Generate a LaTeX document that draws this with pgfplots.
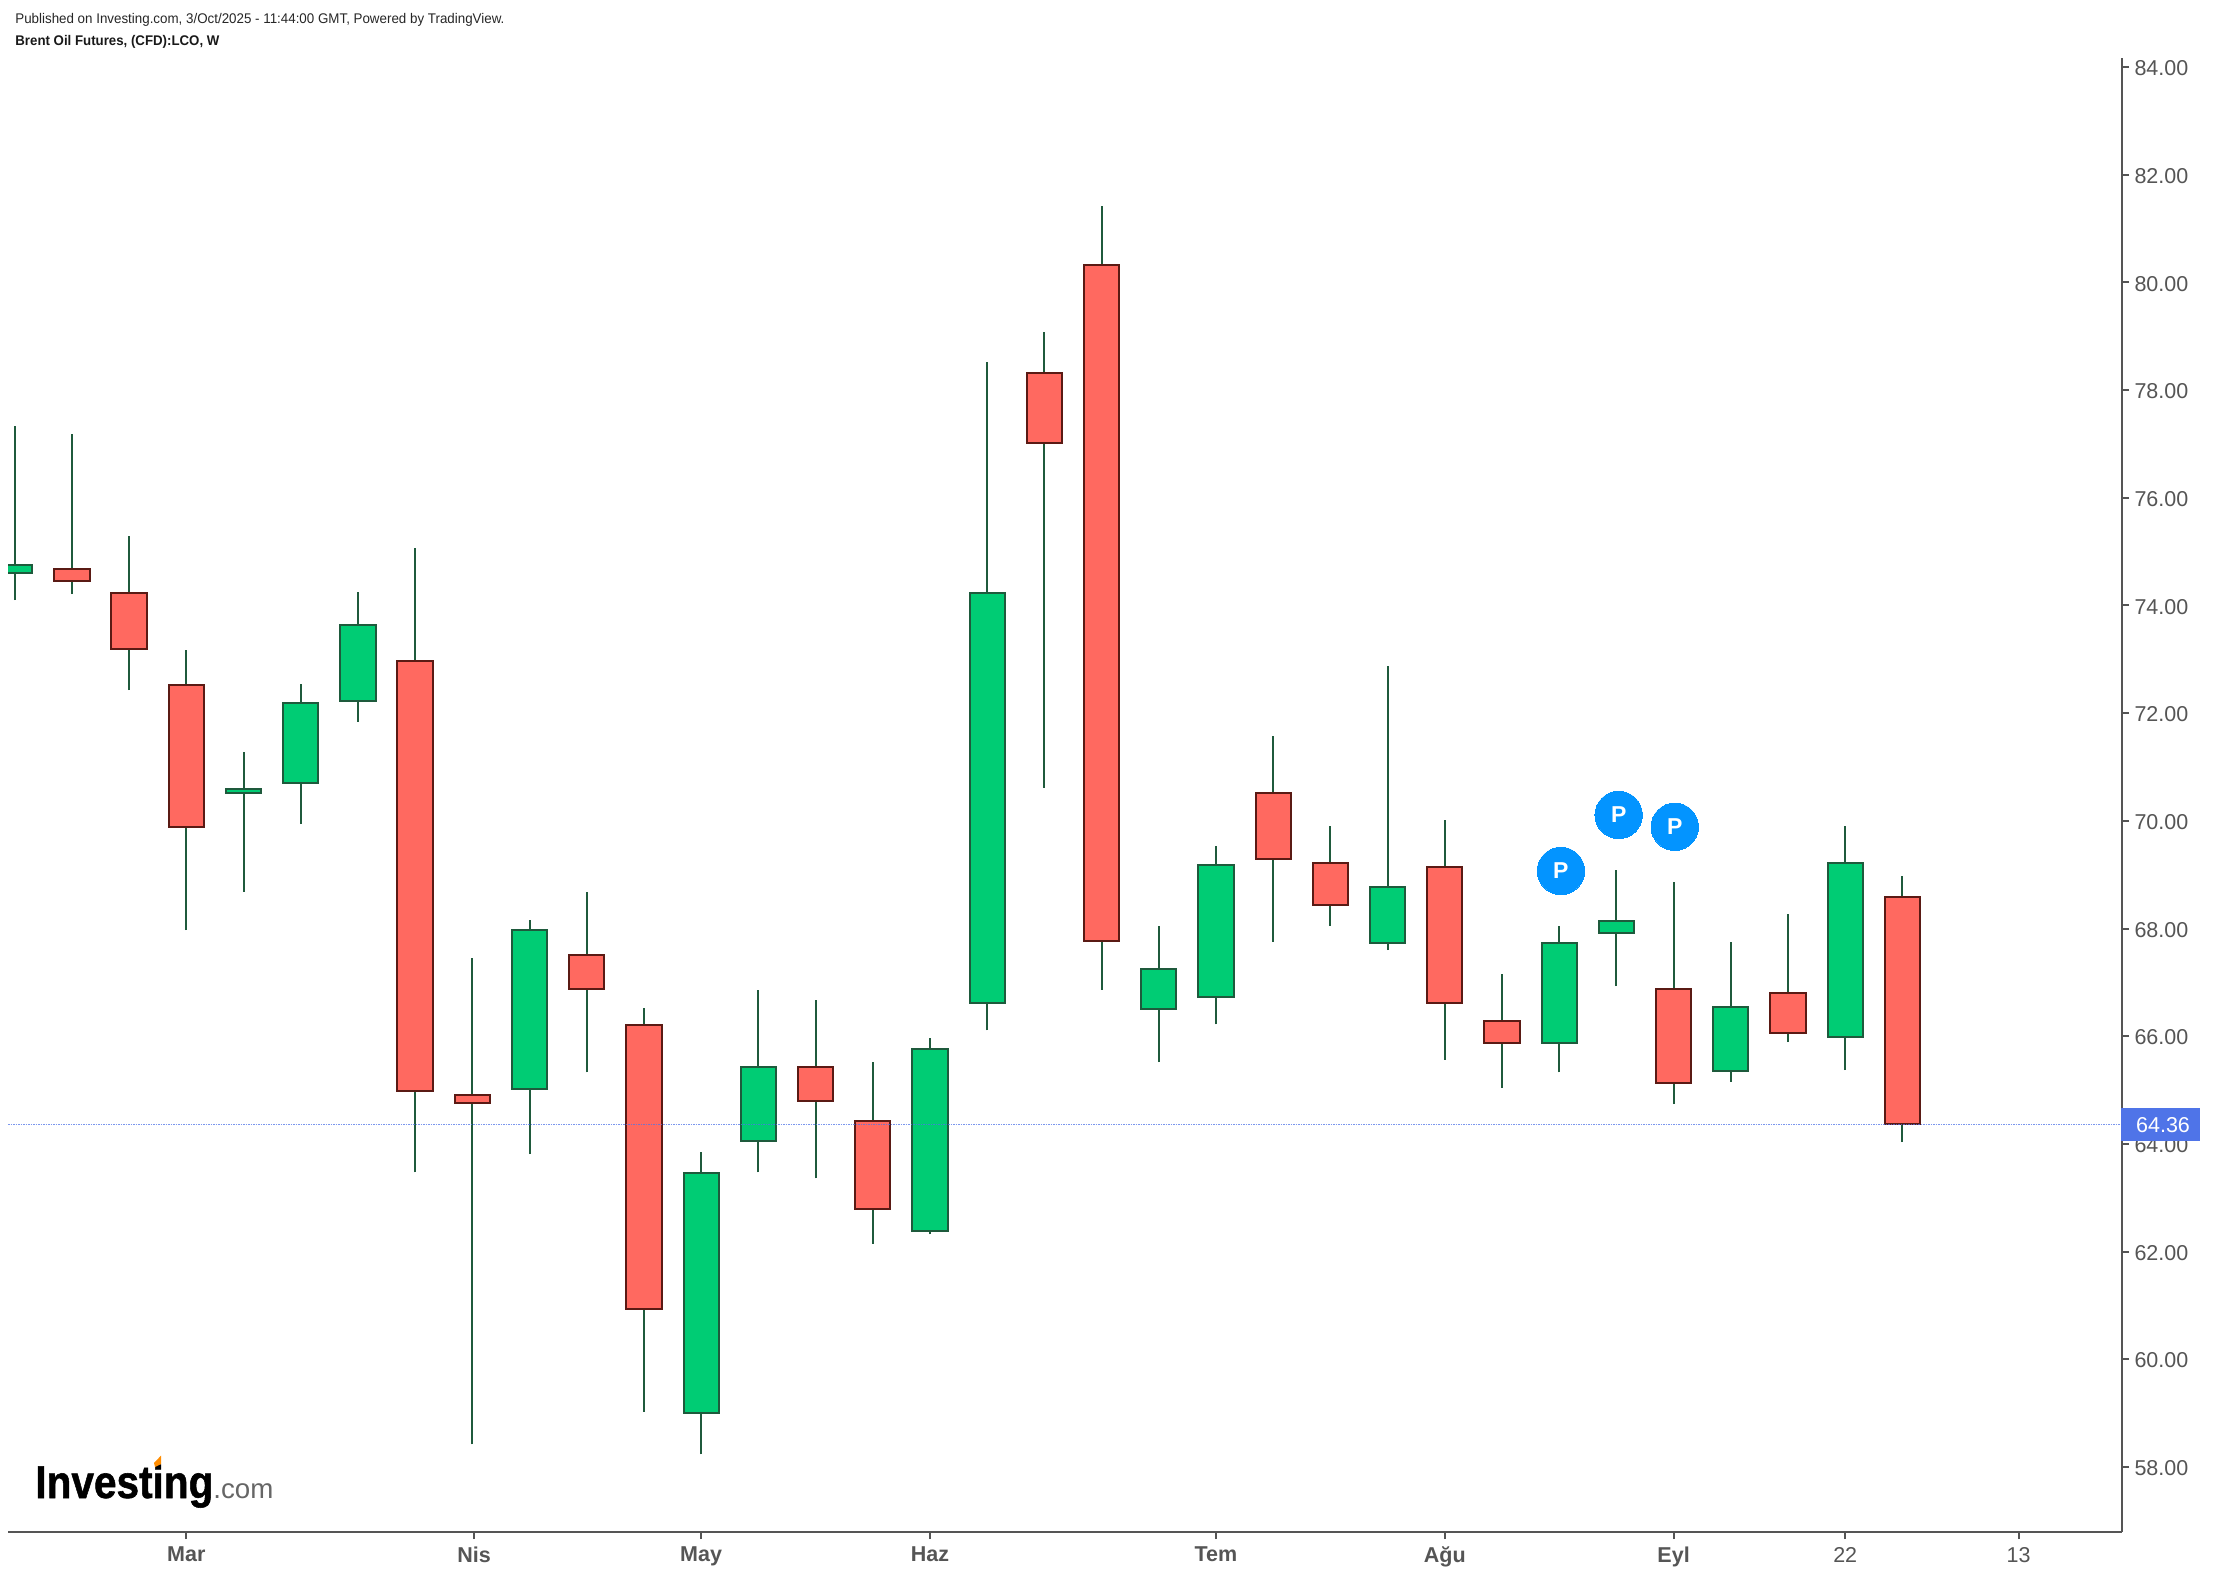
\documentclass[border=0pt]{standalone}
\usepackage{pgfplots}
\pgfplotsset{compat=1.18}
\usepackage{graphicx}
\usepackage{fontspec}
\setmainfont{Liberation Sans}
\newfontfamily\logofont[FakeBold=1.2]{Liberation Sans Bold}
\definecolor{gFill}{HTML}{00CC74}
\definecolor{gEdge}{HTML}{1E5A3C}
\definecolor{rFill}{HTML}{FF6960}
\definecolor{rEdge}{HTML}{5A1A14}
\definecolor{wick}{HTML}{1F5A3C}
\definecolor{axc}{HTML}{555555}
\definecolor{lastp}{HTML}{4F74E8}
\definecolor{pblue}{HTML}{0394FF}
\pgfplotsset{
  up/.style={draw=gEdge,fill=gFill,line width=1pt,mark=none,line join=miter},
  dn/.style={draw=rEdge,fill=rFill,line width=1pt,mark=none,line join=miter},
  wk/.style={draw=wick,line width=1pt,mark=none,line cap=butt},
}
% candle: style, position, low, body bottom, body top, high
\newcommand{\cdl}[6]{%
  \pgfmathsetmacro\xl{#2-0.3085}\pgfmathsetmacro\xr{#2+0.3085}%
  \edef\tmp{\noexpand\addplot[wk] coordinates {(#2,#3)(#2,#6)};%
    \noexpand\addplot[#1] coordinates {(\xl,#4)(\xr,#4)(\xr,#5)(\xl,#5)} --cycle;}%
  \tmp}
\begin{document}
\begin{tikzpicture}[x=1pt,y=1pt]
\useasboundingbox (0,0) rectangle (1115,787);
\begin{axis}[
  at={(4pt,21pt)},anchor=south west,
  scale only axis,width=1057pt,height=737pt,
  xmin=-0.1174,xmax=36.841,ymin=56.79,ymax=84.17,
  axis x line=bottom,axis y line=right,
  axis line style={-,draw=axc,line width=1pt},
  tick style={draw=axc,line width=1pt},
  major tick length=3.5pt,
  tick align=outside,
  xtick={3,8.03,12,16,21,25,29,32,35.03},
  xticklabels={\textbf{Mar},\textbf{Nis},\textbf{May},\textbf{Haz},\textbf{Tem},\textbf{Ağu},\textbf{Eyl},22,13},
  ytick={58,60,...,84},
  y tick label style={/pgf/number format/.cd,fixed,fixed zerofill,precision=2,assume math mode=true,/tikz/.cd,
    anchor=west,xshift=0.5pt,yshift=-0.6pt,text=axc,font=\fontsize{10.75}{12}\selectfont},
  x tick label style={text=axc,font=\fontsize{10.75}{12}\selectfont,yshift=-0.5pt},
  yticklabel style={inner xsep=2pt},
  clip=true,
]
\cdl{up}{0}{74.10}{74.60}{74.75}{77.33}
\cdl{dn}{1}{74.21}{74.46}{74.68}{77.19}
\cdl{dn}{2}{72.43}{73.19}{74.23}{75.29}
\cdl{dn}{3}{67.97}{69.88}{72.52}{73.17}
\cdl{up}{4}{68.68}{70.52}{70.59}{71.28}
\cdl{up}{5}{69.94}{70.70}{72.19}{72.54}
\cdl{up}{6}{71.84}{72.23}{73.64}{74.25}
\cdl{dn}{7}{63.47}{64.98}{72.97}{75.07}
\cdl{dn}{8}{58.42}{64.76}{64.91}{67.45}
\cdl{up}{9}{63.81}{65.02}{67.97}{68.16}
\cdl{dn}{10}{65.33}{66.87}{67.51}{68.68}
\cdl{dn}{11}{59.02}{60.93}{66.21}{66.52}
\cdl{up}{12}{58.23}{59.00}{63.46}{63.85}
\cdl{up}{13}{63.47}{64.05}{65.43}{66.86}
\cdl{dn}{14}{63.36}{64.79}{65.43}{66.67}
\cdl{dn}{15}{62.14}{62.79}{64.42}{65.52}
\cdl{up}{16}{62.32}{62.38}{65.76}{65.96}
\cdl{up}{17}{66.11}{66.61}{74.23}{78.52}
\cdl{dn}{18}{70.61}{77.02}{78.32}{79.08}
\cdl{dn}{19}{66.86}{67.77}{80.33}{81.42}
\cdl{up}{20}{65.52}{66.50}{67.25}{68.05}
\cdl{up}{21}{66.22}{66.73}{69.18}{69.53}
\cdl{dn}{22}{67.75}{69.29}{70.52}{71.58}
\cdl{dn}{23}{68.05}{68.44}{69.22}{69.90}
\cdl{up}{24}{67.60}{67.73}{68.77}{72.88}
\cdl{dn}{25}{65.56}{66.61}{69.14}{70.01}
\cdl{dn}{26}{65.04}{65.87}{66.28}{67.15}
\cdl{up}{27}{65.33}{65.87}{67.73}{68.05}
\cdl{up}{28}{66.93}{67.92}{68.14}{69.09}
\cdl{dn}{29}{64.74}{65.13}{66.87}{68.86}
\cdl{up}{30}{65.15}{65.35}{66.54}{67.75}
\cdl{dn}{31}{65.89}{66.06}{66.80}{68.27}
\cdl{up}{32}{65.37}{65.98}{69.22}{69.90}
\cdl{dn}{33}{64.03}{64.36}{68.58}{68.97}
% last price line
\addplot[lastp,opacity=0.75,line width=0.9pt,dash pattern=on 0.75pt off 0.5pt] coordinates {(-0.1174,64.36)(36.841,64.36)};
% P markers
\addplot[only marks,mark=*,mark size=11.85pt,color=pblue,mark options={fill=pblue,draw=pblue,line width=0pt},
  nodes near coords={\textbf{P}},
  every node near coord/.style={anchor=center,text=white,font=\fontsize{11.5}{12}\selectfont,inner sep=0pt}]
  coordinates {(27.03,69.07)(28.04,70.11)(29.02,69.89)};
\end{axis}
% header text
\node[anchor=base west,inner sep=0pt,text=black!85] at (7.5,775.2) {\resizebox{244.5pt}{\height}{\fontsize{7}{8}\selectfont Published on Investing.com, 3/Oct/2025 - 11:44:00 GMT, Powered by TradingView.}};
\node[anchor=base west,inner sep=0pt,text=black!90] at (7.5,764.1) {\resizebox{102pt}{\height}{\fontsize{7}{8}\selectfont\bfseries Brent Oil Futures, (CFD):LCO, W}};
% logo
\node[anchor=base west,inner sep=0pt,text=black] at (17.5,38) {\resizebox{89pt}{\height}{\fontsize{23}{26}\selectfont\logofont Investing}};
\node[anchor=base west,inner sep=0pt,text=black!60] at (106.5,38) {\resizebox{30pt}{\height}{\fontsize{13.8}{16}\selectfont .com}};
\fill[orange!90!yellow] (77,55.5) -- (80.5,59.2) -- (80.5,55) -- (77.5,53.5) -- cycle;
% last price label
\fill[lastp] (1060.5,216.3) rectangle (1100,233);
\node[anchor=center,inner sep=0pt,text=white] at (1081.5,224.4) {\fontsize{10.75}{12}\selectfont 64.36};
\end{tikzpicture}
\end{document}
